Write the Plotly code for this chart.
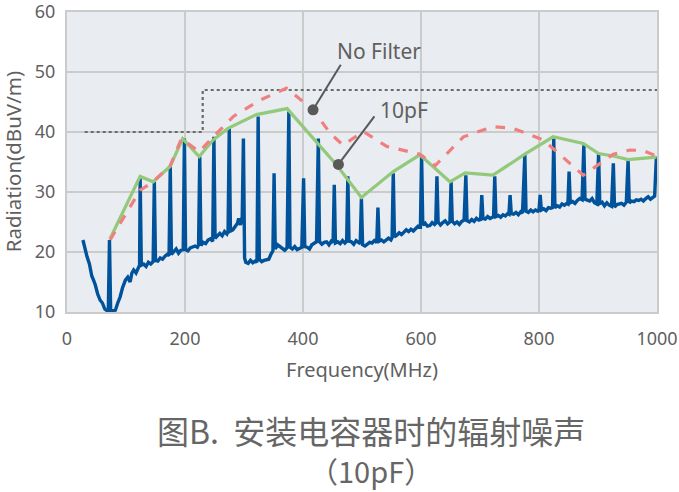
import plotly.graph_objects as go

# ---------------- data ----------------
# measured spectrum (blue), MHz / dBuV/m
spec_f = [27, 30, 34, 38, 42, 45, 48, 52, 56, 60, 64, 68, 70, 72, 74, 78, 82, 86, 90, 94, 99,
          103, 107, 110, 113, 117, 121, 123, 124, 126, 130, 134, 138, 142, 146, 148, 150, 154,
          158, 162, 166, 170, 173, 175, 177, 181, 185, 189, 193, 197, 199, 201, 205, 209, 213,
          217, 221, 223, 225, 227, 231, 235, 239, 243, 247, 249, 251, 255, 259, 263, 267, 271,
          273, 275, 277, 281, 285, 289, 291, 294, 297, 299, 301, 303, 307, 311, 315, 319, 322,
          324, 326, 330, 334, 338, 342, 346, 349, 351, 353, 357, 361, 365, 369, 373, 376, 378,
          382, 386, 390, 394, 398, 401, 403, 407, 411, 415, 419, 423, 426, 428, 432, 436, 440,
          444, 448, 451, 453, 455, 459, 463, 467, 471, 474, 476, 478, 482, 486, 490, 494, 497,
          499, 501, 505, 509, 513, 517, 521, 525, 527, 529, 533, 537, 541, 545, 549, 551, 553,
          555, 559, 563, 567, 571, 575, 579, 583, 587, 591, 595, 599, 601, 603, 607, 611, 615,
          619, 623, 625, 627, 629, 633, 637, 641, 645, 649, 651, 653, 657, 661, 665, 669, 673,
          676, 678, 682, 686, 690, 694, 698, 701, 703, 705, 709, 713, 717, 721, 723, 725, 727,
          731, 735, 739, 743, 747, 749, 751, 753, 757, 761, 765, 769, 772, 776, 778, 782, 786,
          790, 794, 798, 800, 802, 804, 808, 812, 816, 820, 823, 825, 827, 831, 835, 839, 843,
          847, 849, 851, 853, 857, 861, 865, 869, 873, 876, 878, 882, 886, 890, 894, 898, 901,
          903, 907, 911, 915, 919, 923, 926, 928, 932, 936, 940, 944, 948, 951, 953, 957, 961,
          965, 969, 973, 977, 981, 985, 989, 993, 996, 999]
spec_db = [22, 20.5, 19.2, 18, 16, 15.3, 14.5, 13, 12, 11.5, 10.5, 10.2, 10.2, 22, 10.2, 10.2,
           10.3, 11.5, 12.5, 14, 15.3, 15.8, 15, 16.5, 17, 16.5, 17.5, 17.8, 32.3, 17.8, 18.0,
           17.6, 18.3, 18, 18.4, 31.7, 18.6, 18.5, 19, 18.8, 19.3, 19.6, 19.4, 34.2, 19.6, 20.1,
           20.5, 19.8, 20.3, 20.4, 38.9, 20.4, 20.2, 20.7, 20.9, 21.0, 20.8, 21.2, 35.9, 21.1,
           21.6, 21.4, 22, 22.2, 21.8, 39.2, 22.3, 22.8, 23.1, 22.7, 23.4, 23.0, 23.5, 40.6, 23.5,
           23.7, 24.3, 24.8, 25.6, 24.5, 25.9, 38.9, 19, 18.3, 18.1, 18.6, 18.2, 18.5, 18.3, 42.6,
           18.8, 18.4, 18.6, 18.7, 18.8, 19.7, 20.2, 33.1, 20.5, 21.2, 20.9, 20.6, 20.3, 20.7,
           43.4, 20.8, 20.5, 20.9, 20.4, 20.6, 20.8, 32.3, 20.9, 20.8, 20.5, 21.2, 21.4, 21.7,
           38.9, 21.7, 21.3, 21.6, 21.7, 21.2, 21.8, 21.6, 31.2, 21.5, 21.7, 21.4, 21.9, 21.5,
           21.8, 32.6, 21.8, 21.7, 21.3, 21.9, 21.6, 21.4, 28.9, 21.2, 21.0, 21.4, 21.6, 21.5,
           21.9, 21.6, 27.4, 21.8, 22.0, 21.7, 22.1, 22.3, 22.0, 22.4, 33.1, 22.5, 22.8, 23.2,
           22.9, 23.4, 23.7, 23.4, 23.8, 23.5, 23.9, 24.3, 24.2, 36.2, 24.5, 24.8, 24.3, 24.4,
           24.9, 24.6, 24.8, 32.6, 25.0, 24.5, 24.9, 25.2, 24.7, 25.0, 31.7, 25.1, 24.7, 25.0,
           24.6, 25.1, 25.3, 32.8, 25.2, 25.0, 25.4, 25.1, 25.6, 25.3, 25.4, 29.5, 25.6, 25.5,
           25.9, 25.6, 25.8, 25.9, 32.6, 25.9, 26.1, 25.8, 26.2, 26.0, 26.4, 26.3, 29.5, 26.4,
           26.3, 26.6, 26.2, 26.7, 26.5, 36.2, 26.8, 26.6, 27.0, 26.7, 27.0, 26.8, 27.0, 29.5,
           27.0, 27.2, 26.9, 27.4, 27.3, 27.4, 38.9, 27.4, 27.7, 27.5, 28.0, 27.8, 28.1, 28.0,
           33.4, 28.2, 28.4, 28.1, 28.6, 28.9, 28.7, 37.8, 28.8, 28.6, 28.5, 28.9, 28.2, 28.0,
           36.4, 28.1, 28.3, 27.7, 28.2, 27.8, 27.6, 34.8, 27.5, 27.9, 28.0, 28.1, 27.8, 28.3,
           35.3, 28.2, 28.5, 28.4, 28.7, 28.6, 28.8, 28.5, 28.9, 29.2, 28.8, 29.0, 29.3, 35.9]

# envelope with 10pF capacitor (green)
cap_f = [73, 124, 146, 175, 196, 224, 248, 273, 321, 373, 457, 499, 553, 598, 649, 675, 722,
         776, 824, 875, 901, 926, 951, 999]
cap_db = [22.2, 32.6, 31.7, 34.3, 38.9, 35.9, 38.7, 40.6, 42.9, 43.9, 34.5, 29.1, 33.4, 36.2,
          31.7, 33.2, 32.8, 36.3, 39.2, 38.1, 36.4, 36.0, 35.4, 35.8]

# envelope without filter (red dashed)
nof_f = [73, 124, 146, 175, 194, 224, 248, 282, 327, 372, 417, 446, 468, 502, 542, 598, 624,
         672, 722, 756, 807, 875, 926, 954, 977, 999]
nof_db = [22.0, 30.3, 31.7, 34.4, 38.9, 36.7, 39.2, 42.6, 45.3, 47.3, 43.7, 39.8, 37.8, 40.1,
          37.6, 36.3, 34.4, 39.2, 40.9, 40.6, 38.7, 32.8, 36.3, 37.0, 36.9, 36.0]

# limit line (dotted)
lim_f = [30, 230, 230, 1000]
lim_db = [40, 40, 47, 47]

x_ticks = [0, 200, 400, 600, 800, 1000]
y_ticks = [10, 20, 30, 40, 50, 60]

# callouts: label, dot position, line end, text position
call_labels = ["No Filter", "10pF"]
call_dot_f = [417, 460]
call_dot_db = [43.7, 34.6]
call_end_f = [464, 521]
call_end_db = [51.2, 42.6]
call_txt_f = [528, 572]
call_txt_db = [53.5, 43.6]

title_lines = ["图B.  安装电容器时的辐射噪声", "（10pF）"]

# ---------------- figure ----------------
GRAY = "#5f5f5f"
CJK = "Noto Sans CJK SC"
LAT = "Noto Sans"

fig = go.Figure()
fig.add_trace(go.Scatter(x=lim_f, y=lim_db, mode="lines",
                         line=dict(color="#6a6a6a", width=2.2, dash="dot"),
                         hoverinfo="skip", showlegend=False))
fig.add_trace(go.Scatter(x=spec_f, y=spec_db, mode="lines",
                         line=dict(color="#00529B", width=3.4),
                         showlegend=False))
fig.add_trace(go.Scatter(x=cap_f, y=cap_db, mode="lines",
                         line=dict(color="#93C97A", width=3.2),
                         showlegend=False))
fig.add_trace(go.Scatter(x=nof_f, y=nof_db, mode="lines",
                         line=dict(color="#F08080", width=3.2, dash="dash"),
                         showlegend=False))

for i in range(len(call_labels)):
    fig.add_shape(type="line", x0=call_dot_f[i], y0=call_dot_db[i],
                  x1=call_end_f[i], y1=call_end_db[i],
                  line=dict(color="#595959", width=2))
    fig.add_annotation(x=call_txt_f[i], y=call_txt_db[i], text=call_labels[i],
                       showarrow=False, font=dict(family=LAT, size=21, color=GRAY),
                       xanchor="center", yanchor="middle")
fig.add_trace(go.Scatter(x=call_dot_f, y=call_dot_db, mode="markers",
                         marker=dict(color="#595959", size=11),
                         showlegend=False, hoverinfo="skip"))

# plot area: x 67..657 px, y 12..312 px
fig.add_annotation(xref="paper", yref="paper", x=0.5, y=-0.193, text="Frequency(MHz)",
                   showarrow=False, font=dict(family=LAT, size=20, color=GRAY),
                   xanchor="center", yanchor="middle")
fig.add_annotation(xref="paper", yref="paper", x=-0.091, y=0.5, text="Radiation(dBuV/m)",
                   showarrow=False, textangle=-90,
                   font=dict(family=LAT, size=20.5, color=GRAY),
                   xanchor="center", yanchor="middle")
fig.add_annotation(xref="paper", yref="paper", x=0.516, y=-0.3933, text=title_lines[0],
                   showarrow=False, font=dict(family=CJK, size=32, color="#666666"),
                   xanchor="center", yanchor="middle", borderpad=0)
fig.add_annotation(xref="paper", yref="paper", x=0.515, y=-0.5267, text=title_lines[1],
                   showarrow=False, font=dict(family=CJK, size=29, color="#666666"),
                   xanchor="center", yanchor="middle", borderpad=0)

axis_common = dict(showgrid=True, gridcolor="#CBCBCB", gridwidth=2,
                   showline=True, linecolor="#CBCBCB", linewidth=2, mirror=True,
                   zeroline=False, ticks="outside", tickcolor="rgba(0,0,0,0)",
                   automargin=False, ticklabeloverflow="allow",
                   tickfont=dict(family=LAT, size=18, color=GRAY))
fig.update_xaxes(range=[0, 1000], tickvals=x_ticks, ticklen=9, **axis_common)
fig.update_yaxes(range=[10, 60], tickvals=y_ticks, ticklen=6, **axis_common)

fig.update_layout(width=679, height=492,
                  margin=dict(l=67, r=22, t=12, b=180),
                  plot_bgcolor="#E9ECF0", paper_bgcolor="white",
                  showlegend=False)

fig.write_html("out.html", config={"displayModeBar": False},
               post_script="document.body.style.margin='0';document.body.style.overflow='hidden';")
